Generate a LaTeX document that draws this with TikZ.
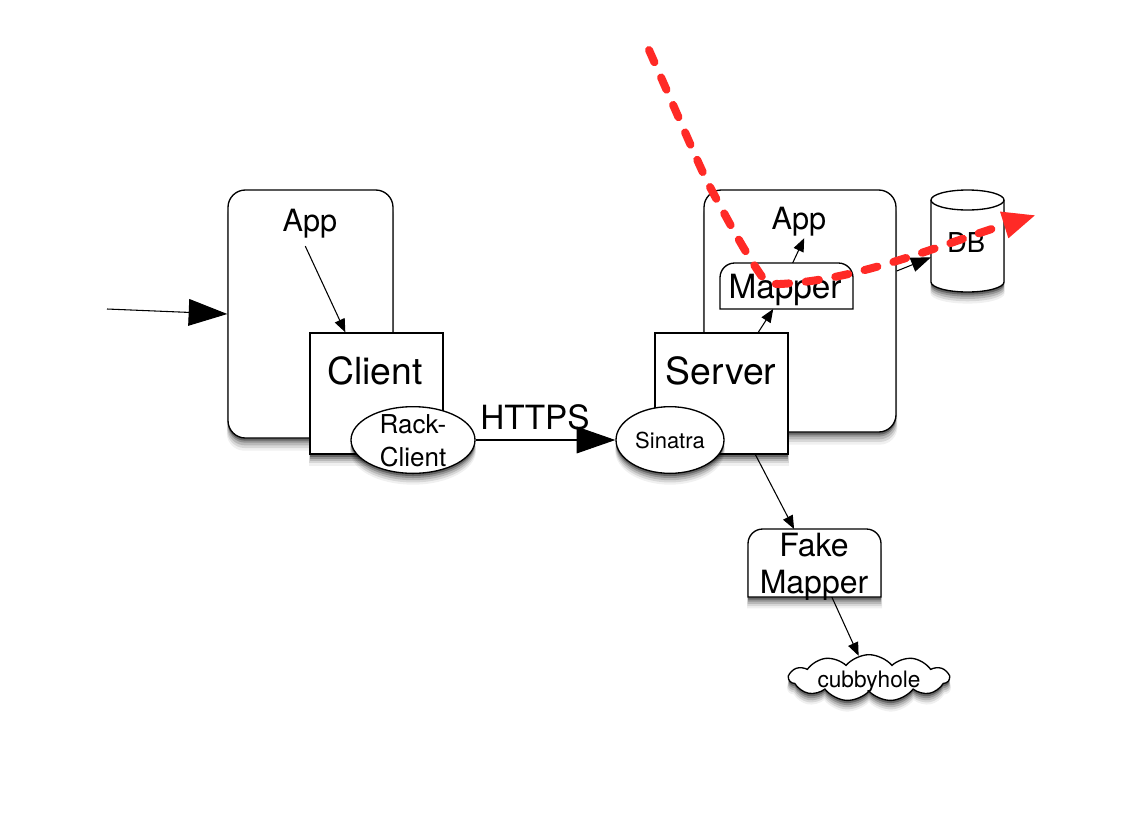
\documentclass[tikz,border=0pt]{standalone}
\usepackage{fontspec}
\setmainfont{TeX Gyre Heros}
\usetikzlibrary{arrows.meta, shadows, shapes.geometric, shapes.symbols}

\definecolor{dashred}{HTML}{FF2A26}
\newcommand{\fsize}[2]{\fontsize{#1}{#2}\selectfont}

\tikzset{
    softshadow/.style={
        drop shadow={shadow xshift=0pt, shadow yshift=-8pt, shadow scale=1.015, opacity=.06, fill=black},
        drop shadow={shadow xshift=0pt, shadow yshift=-6.5pt, shadow scale=1.01, opacity=.1, fill=black},
        drop shadow={shadow xshift=0pt, shadow yshift=-5pt, shadow scale=1.005, opacity=.14, fill=black},
        drop shadow={shadow xshift=0pt, shadow yshift=-3.5pt, opacity=.2, fill=black},
        drop shadow={shadow xshift=0pt, shadow yshift=-2pt, opacity=.3, fill=black}},
    box/.style={draw, fill=white, line width=1pt, inner sep=0pt, softshadow},
    roundbox/.style={box, rectangle, rounded corners=13pt},
    topround/.style={draw, fill=white, line width=1pt, rounded corners=11pt},
    holder/.style={inner sep=0pt, outer sep=0pt},
    thin arrow/.style={-{Triangle[length=10pt, width=8pt]}, line width=.8pt},
    mid arrow/.style={-{Triangle[length=15pt, width=11pt]}, line width=.8pt},
    big arrow/.style={-{Triangle[length=29pt, width=20pt]}, line width=.8pt},
    dashline/.style={dashred, line width=6pt, line cap=round, line join=round,
        dash pattern=on 10pt off 12.5pt, -{Triangle[length=25pt, width=19pt]}}
}

\begin{document}
\begin{tikzpicture}[x=0.75pt, y=-0.75pt]
    \useasboundingbox[fill=white] (0,0) rectangle (1134,829);

    \node[roundbox, minimum width=123.75pt, minimum height=186pt] (clientapp) at (310.5,314) {};
    \node[inner sep=1pt, font=\fsize{23}{26}] (clientapplabel) at (310,224) {App};
    \node[box, rectangle, minimum width=99.75pt, minimum height=90.75pt] (client) at (376.5,393.5) {};
    \node[inner sep=1pt, font=\fsize{28}{32}] (clientlabel) at (375,371) {Client};

    \node[roundbox, minimum width=144pt, minimum height=181.5pt] (serverapp) at (800,311) {};
    \node[inner sep=1pt, font=\fsize{23}{26}] (serverapplabel) at (799,222) {App};
    \node[box, rectangle, minimum width=99.75pt, minimum height=90.75pt] (server) at (721.5,393.5) {};
    \node[inner sep=1pt, font=\fsize{28}{32}] (serverlabel) at (721,371) {Server};

    \node[holder, minimum width=99.75pt, minimum height=34.5pt] (mapper) at (786.5,286) {};
    \draw[topround] (mapper.south west) -- (mapper.north west) -- (mapper.north east)
        [sharp corners] -- (mapper.south east) -- cycle;
    \node[inner sep=1pt, font=\fsize{25}{28}] (mapperlabel) at (785,290) {Mapper};

    \node[holder, minimum width=54.75pt, minimum height=76.5pt] (db) at (967.5,241) {};
    \draw[fill=white, line width=1pt, softshadow] ([yshift=-7.5pt]db.north west)
        arc[x radius=27.375pt, y radius=7.5pt, start angle=180, end angle=0]
        -- ([yshift=7.5pt]db.south east)
        arc[x radius=27.375pt, y radius=7.5pt, start angle=0, end angle=-180] -- cycle;
    \draw[line width=1pt] ([yshift=-7.5pt]db.north west)
        arc[x radius=27.375pt, y radius=7.5pt, start angle=180, end angle=360];
    \node[inner sep=1pt, font=\fsize{20.5}{24}] (dblabel) at (966,243) {DB};

    \node[box, ellipse, minimum width=93pt, minimum height=50pt] (rack) at (413,440) {};
    \node[inner sep=1pt, align=center, font=\fsize{19.5}{24.5}] (racklabel) at (413,441) {Rack-\\Client};
    \node[box, ellipse, minimum width=81pt, minimum height=50pt] (sinatra) at (670,440) {};
    \node[inner sep=1pt, font=\fsize{16.5}{20}] (sinatralabel) at (670,440) {Sinatra};

    \node[holder, minimum width=99.75pt, minimum height=51pt] (fake) at (814.5,563) {};
    \draw[topround, softshadow] (fake.south west) -- (fake.north west) -- (fake.north east)
        [sharp corners] -- (fake.south east) -- cycle;
    \node[inner sep=1pt, align=center, font=\fsize{24}{28}] (fakelabel) at (814,567) {Fake\\Mapper};

    \node[box, cloud, cloud puffs=11, cloud puff arc=100, aspect=3.6, minimum width=120pt, minimum height=35pt] (cubby) at (869,678) {};
    \node[inner sep=1pt, font=\fsize{17}{20}] (cubbylabel) at (869,682) {cubbyhole};

    \node[inner sep=1pt, font=\fsize{25}{28}] (https) at (535,417) {HTTPS};

    \coordinate (enter) at (107,309);
    \draw[big arrow] (enter) -- (clientapp.west);
    \draw[thin arrow, shorten <=5pt] (clientapplabel.-115) -- (client.117);
    \draw[big arrow] (rack.east) -- (sinatra.west);
    \draw[thin arrow] (server.59) -- (mapper.-120);
    \draw[thin arrow] (mapper.75) -- (serverapplabel.-72);
    \draw[mid arrow] (serverapp.east |- 0,271) -- (db.204);
    \draw[thin arrow] (server.-61) -- (fake.121);
    \draw[thin arrow] (fake.-63) -- (cubby.115);

    \coordinate (reda) at (649,50);
    \coordinate (redb) at (763,278);
    \coordinate (redc) at (780,284);
    \coordinate (redd) at (1036,215);
    \draw[dashline] (reda) .. controls (680,120) and (700,168) .. (710,187)
        .. controls (725,215) and (745,253) .. (redb) .. controls (768,284) and (772,284) .. (redc)
        .. controls (860,280) and (940,245) .. (redd);
\end{tikzpicture}
\end{document}
